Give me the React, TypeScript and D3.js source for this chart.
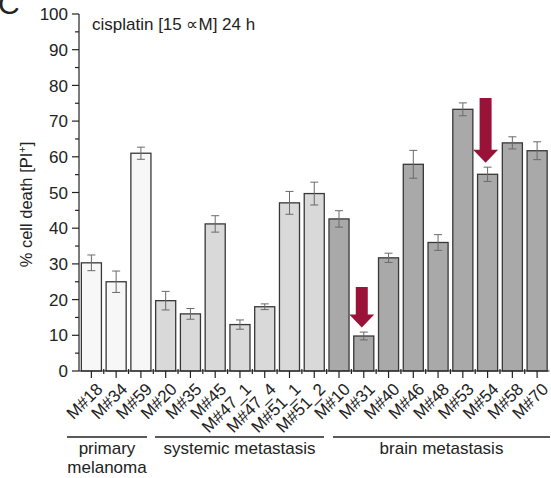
import React from "react";
import * as d3 from "d3";

const categories = ["M#18","M#34","M#59","M#20","M#35","M#45","M#47_1","M#47_4","M#51_1","M#51_2","M#10","M#31","M#40","M#46","M#48","M#53","M#54","M#58","M#70"];
const values = [30.3,25.0,61.0,19.7,16.0,41.2,13.0,18.0,47.1,49.7,42.6,9.8,31.7,57.9,36.0,73.3,55.1,63.9,61.7];
const errors = [2.2,3.0,1.7,2.6,1.5,2.3,1.3,0.8,3.2,3.2,2.3,1.1,1.3,3.9,2.2,1.8,2.0,1.7,2.5];
const groupOf = [0,0,0,1,1,1,1,1,1,1,2,2,2,2,2,2,2,2,2];
const groupNames = [["primary","melanoma"],["systemic metastasis"],["brain metastasis"]];
const groupFill = ["#f7f7f7","#d9d9d9","#a9a9a9"];
const yTicks = [0,10,20,30,40,50,60,70,80,90,100];
const arrows = [
  { cat: "M#31", from: 23.5, to: 12.2 },
  { cat: "M#54", from: 76.5, to: 58.3 },
];

const W = 551, H = 478;
const x0 = 79, x1 = 549.5, yTop = 14, yBot = 371;

export default function App() {
  const x = d3.scaleBand<string>().domain(categories).range([x0, x1]).paddingInner(0.19).paddingOuter(0.095);
  const y = d3.scaleLinear().domain([0, 100]).range([yBot, yTop]);
  const minorY = d3.range(5, 100, 10);
  const step = x.step();
  const bw = x.bandwidth();
  const font = "'Liberation Sans', Arial, sans-serif";

  const groupExtents = [
    { a: 67, b: 147 },
    { a: 155, b: 324 },
    { a: 333, b: 550 },
  ];

  return (
    <svg width={W} height={H} style={{ position: "absolute", left: 0, top: 0, background: "#fff" }} fontFamily={font}>
      <text x={-2} y={14} fontSize={30} fill="#222">C</text>
      <text x={92} y={30} fontSize={17} fill="#222">cisplatin [15 ∝M] 24 h</text>

      {/* bars */}
      {categories.map((c, i) => (
        <rect key={c} x={x(c)!} y={y(values[i])} width={bw} height={yBot - y(values[i])}
          fill={groupFill[groupOf[i]]} stroke="#383838" strokeWidth={1.3} />
      ))}
      {/* error bars */}
      {categories.map((c, i) => {
        const cx = x(c)! + bw / 2;
        const hi = y(values[i] + errors[i]);
        const lo = y(values[i] - errors[i]);
        return (
          <g key={"e" + c} stroke="#6a6a6a" strokeWidth={1}>
            <line x1={cx} x2={cx} y1={hi} y2={lo} />
            <line x1={cx - 4} x2={cx + 4} y1={hi} y2={hi} />
            <line x1={cx - 4} x2={cx + 4} y1={lo} y2={lo} />
          </g>
        );
      })}

      {/* arrows */}
      {arrows.map((a) => {
        const cx = x(a.cat)! + bw / 2 - 2;
        const top = y(a.from);
        const tip = y(a.to);
        const headH = 13;
        const sw = 6, hw = 12.5;
        const base = tip - headH;
        const d = `M${cx - sw},${top} L${cx + sw},${top} L${cx + sw},${base} L${cx + hw},${base} L${cx},${tip} L${cx - hw},${base} L${cx - sw},${base} Z`;
        return <path key={a.cat} d={d} fill="#9b1239" />;
      })}

      {/* y axis */}
      <line x1={x0} x2={x0} y1={yTop} y2={yBot} stroke="#222" strokeWidth={1.2} />
      {yTicks.map((t) => (
        <g key={t}>
          <line x1={x0 - 7} x2={x0} y1={y(t)} y2={y(t)} stroke="#222" strokeWidth={1.2} />
          <text x={x0 - 11} y={y(t)} dy="0.36em" textAnchor="end" fontSize={17} fill="#222">{t}</text>
        </g>
      ))}
      {minorY.map((t) => (
        <line key={"m" + t} x1={x0 - 4} x2={x0} y1={y(t)} y2={y(t)} stroke="#222" strokeWidth={1.2} />
      ))}
      <text transform={`translate(32,${(yTop + yBot) / 2 + 12}) rotate(-90)`} textAnchor="middle" fontSize={16.5} fill="#222">
        % cell death [PI<tspan dy="-6" fontSize={11}>+</tspan><tspan dy="6">]</tspan>
      </text>

      {/* x axis */}
      <line x1={x0} x2={x1} y1={yBot} y2={yBot} stroke="#222" strokeWidth={1.2} />
      {categories.map((c) => {
        const cx = x(c)! + bw / 2;
        return <line key={"t" + c} x1={cx} x2={cx} y1={yBot} y2={yBot + 7} stroke="#222" strokeWidth={1.2} />;
      })}
      {categories.map((c, i) => {
        const bx = x(c)! - (step - bw) / 2;
        return i === 0 ? null : <line key={"mt" + c} x1={bx} x2={bx} y1={yBot - 2} y2={yBot + 3} stroke="#222" strokeWidth={1.2} />;
      })}
      {categories.map((c) => {
        const cx = x(c)! + bw / 2;
        return (
          <text key={"l" + c} transform={`translate(${cx + 8},${yBot + 15}) rotate(-45)`} textAnchor="end" fontSize={17} dy="0.35em" fill="#222">{c}</text>
        );
      })}

      {/* groups */}
      {groupExtents.map((g, i) => (
        <g key={"g" + i}>
          <line x1={g.a} x2={g.b} y1={437} y2={437} stroke="#222" strokeWidth={1.3} />
          {groupNames[i].map((s, k) => (
            <text key={s} x={(g.a + g.b) / 2} y={454 + k * 19} textAnchor="middle" fontSize={17} fill="#222">{s}</text>
          ))}
        </g>
      ))}
    </svg>
  );
}
